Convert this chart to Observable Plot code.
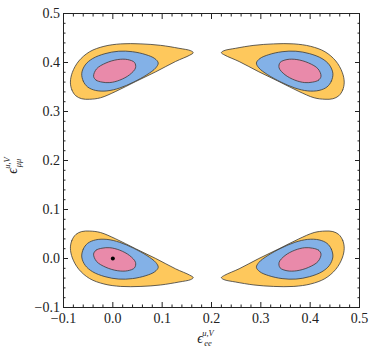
<!DOCTYPE html>
<html><head><meta charset="utf-8">
<script src="https://cdn.jsdelivr.net/npm/d3@7"></script>
<script src="https://cdn.jsdelivr.net/npm/@observablehq/plot@0.6"></script>
<style>body{margin:0;background:#fff}</style>
</head><body><div id="chart"></div>
<script>
// Tick values
const xTicks = [-0.1, 0.0, 0.1, 0.2, 0.3, 0.4, 0.5];
const yTicks = [-0.1, 0.0, 0.1, 0.2, 0.3, 0.4, 0.5];
const minorTicks = [-0.08,-0.06,-0.04,-0.02,0.02,0.04,0.06,0.08,0.12,0.14,0.16,0.18,0.22,0.24,0.26,0.28,0.32,0.34,0.36,0.38,0.42,0.44,0.46,0.48];

// Confidence levels (outer -> inner) and colours
const levels = ["outer", "middle", "inner"];
const levelColors = ["#fec85c", "#83b1e7", "#e98aaa"];

// Best-fit point
const bestFit = [[0.0, 0.0]];

// Contour boundaries: [x = eps_ee, y = eps_mumu]
const outerBL = [[-0.086,0.021],[-0.083,0.037],[-0.075,0.049],[-0.063,0.055],[-0.047,0.056],[-0.025,0.053],[0.006,0.040],[0.046,0.020],[0.087,0.000],[0.127,-0.021],[0.156,-0.034],[0.163,-0.039],[0.158,-0.043],[0.134,-0.048],[0.097,-0.054],[0.057,-0.057],[0.016,-0.057],[-0.018,-0.052],[-0.047,-0.041],[-0.069,-0.022],[-0.082,0.001]];
const outerBR = [[0.469,0.021],[0.466,0.037],[0.458,0.049],[0.446,0.055],[0.430,0.056],[0.408,0.053],[0.377,0.040],[0.337,0.020],[0.296,0.000],[0.256,-0.021],[0.227,-0.034],[0.220,-0.039],[0.225,-0.043],[0.249,-0.048],[0.286,-0.054],[0.326,-0.057],[0.367,-0.057],[0.401,-0.052],[0.430,-0.041],[0.452,-0.022],[0.465,0.001]];
const outerTL = [[-0.086,0.360],[-0.083,0.344],[-0.075,0.332],[-0.063,0.326],[-0.047,0.325],[-0.025,0.328],[0.006,0.341],[0.046,0.361],[0.087,0.381],[0.127,0.402],[0.156,0.415],[0.163,0.420],[0.158,0.424],[0.134,0.429],[0.097,0.435],[0.057,0.438],[0.016,0.438],[-0.018,0.433],[-0.047,0.422],[-0.069,0.403],[-0.082,0.380]];
const outerTR = [[0.469,0.360],[0.466,0.344],[0.458,0.332],[0.446,0.326],[0.430,0.325],[0.408,0.328],[0.377,0.341],[0.337,0.361],[0.296,0.381],[0.256,0.402],[0.227,0.415],[0.220,0.420],[0.225,0.424],[0.249,0.429],[0.286,0.435],[0.326,0.438],[0.367,0.438],[0.401,0.433],[0.430,0.422],[0.452,0.403],[0.465,0.380]];

const middleBL = [[-0.063,0.003],[-0.060,0.019],[-0.051,0.031],[-0.035,0.038],[-0.012,0.039],[0.014,0.033],[0.042,0.021],[0.069,0.006],[0.087,-0.008],[0.092,-0.018],[0.085,-0.027],[0.067,-0.035],[0.040,-0.041],[0.012,-0.042],[-0.016,-0.037],[-0.041,-0.027],[-0.056,-0.014]];
const middleBR = [[0.446,0.003],[0.443,0.019],[0.434,0.031],[0.418,0.038],[0.395,0.039],[0.369,0.033],[0.341,0.021],[0.314,0.006],[0.296,-0.008],[0.291,-0.018],[0.298,-0.027],[0.316,-0.035],[0.343,-0.041],[0.371,-0.042],[0.399,-0.037],[0.424,-0.027],[0.439,-0.014]];
const middleTL = [[-0.063,0.378],[-0.060,0.362],[-0.051,0.350],[-0.035,0.343],[-0.012,0.342],[0.014,0.348],[0.042,0.360],[0.069,0.375],[0.087,0.389],[0.092,0.399],[0.085,0.408],[0.067,0.416],[0.040,0.422],[0.012,0.423],[-0.016,0.418],[-0.041,0.408],[-0.056,0.395]];
const middleTR = [[0.446,0.378],[0.443,0.362],[0.434,0.350],[0.418,0.343],[0.395,0.342],[0.369,0.348],[0.341,0.360],[0.314,0.375],[0.296,0.389],[0.291,0.399],[0.298,0.408],[0.316,0.416],[0.343,0.422],[0.371,0.423],[0.399,0.418],[0.424,0.408],[0.439,0.395]];

const innerBL = [[-0.039,0.009],[-0.034,0.017],[-0.022,0.021],[-0.006,0.022],[0.014,0.017],[0.034,0.006],[0.046,-0.008],[0.044,-0.019],[0.030,-0.025],[0.010,-0.025],[-0.014,-0.018],[-0.033,-0.006]];
const innerBR = [[0.422,0.009],[0.417,0.017],[0.405,0.021],[0.389,0.022],[0.369,0.017],[0.349,0.006],[0.337,-0.008],[0.339,-0.019],[0.353,-0.025],[0.373,-0.025],[0.397,-0.018],[0.416,-0.006]];
const innerTL = [[-0.039,0.372],[-0.034,0.364],[-0.022,0.360],[-0.006,0.359],[0.014,0.364],[0.034,0.375],[0.046,0.389],[0.044,0.400],[0.030,0.406],[0.010,0.406],[-0.014,0.399],[-0.033,0.387]];
const innerTR = [[0.422,0.372],[0.417,0.364],[0.405,0.360],[0.389,0.359],[0.369,0.364],[0.349,0.375],[0.337,0.389],[0.339,0.400],[0.353,0.406],[0.373,0.406],[0.397,0.399],[0.416,0.387]];

const shapes = [
  {id: "outer-BL", level: "outer", pts: outerBL}, {id: "outer-BR", level: "outer", pts: outerBR},
  {id: "outer-TL", level: "outer", pts: outerTL}, {id: "outer-TR", level: "outer", pts: outerTR},
  {id: "middle-BL", level: "middle", pts: middleBL}, {id: "middle-BR", level: "middle", pts: middleBR},
  {id: "middle-TL", level: "middle", pts: middleTL}, {id: "middle-TR", level: "middle", pts: middleTR},
  {id: "inner-BL", level: "inner", pts: innerBL}, {id: "inner-BR", level: "inner", pts: innerBR},
  {id: "inner-TL", level: "inner", pts: innerTL}, {id: "inner-TR", level: "inner", pts: innerTR}
];
const rows = shapes.flatMap(s => s.pts.map(([x, y]) => ({id: s.id, level: s.level, x, y})));

const fmt = d3.format(".1f");
const ink = "#222";
const serif = "'Liberation Serif', 'DejaVu Serif', serif";

const chart = Plot.plot({
  width: 374, height: 354,
  marginLeft: 63, marginRight: 15, marginTop: 13, marginBottom: 47,
  style: {fontFamily: serif, fontSize: "14px", color: ink, background: "#fff"},
  x: {domain: [-0.1, 0.5]},
  y: {domain: [-0.1, 0.5]},
  marks: [
    ...levels.map((lv, i) => Plot.line(rows.filter(r => r.level === lv), {
      x: "x", y: "y", z: "id", fill: levelColors[i], stroke: "#3a3a3a", strokeWidth: 0.8, curve: "catmull-rom-closed"
    })),
    Plot.dot(bestFit, {x: d => d[0], y: d => d[1], r: 2, fill: "#000"}),
    Plot.axisX({ticks: xTicks, anchor: "bottom", tickSize: -5, tickPadding: 11, tickFormat: fmt, label: null}),
    Plot.axisX({ticks: minorTicks, anchor: "bottom", tickSize: -2.5, tickFormat: () => "", label: null}),
    Plot.axisX({ticks: xTicks, anchor: "top", tickSize: -5, tickFormat: () => "", label: null}),
    Plot.axisX({ticks: minorTicks, anchor: "top", tickSize: -2.5, tickFormat: () => "", label: null}),
    Plot.axisY({ticks: yTicks, anchor: "left", tickSize: -5, tickPadding: 8.5, tickFormat: fmt, label: null}),
    Plot.axisY({ticks: minorTicks, anchor: "left", tickSize: -2.5, tickFormat: () => "", label: null}),
    Plot.axisY({ticks: yTicks, anchor: "right", tickSize: -5, tickFormat: () => "", label: null}),
    Plot.axisY({ticks: minorTicks, anchor: "right", tickSize: -2.5, tickFormat: () => "", label: null}),
    Plot.frame({stroke: ink, strokeWidth: 1})
  ]
});

// Axis titles with sub/superscripts (one text element each)
const sx = chart.scale("x"), sy = chart.scale("y");
const cx = (sx.range[0] + sx.range[1]) / 2;
const cy = (sy.range[0] + sy.range[1]) / 2;
function addLabel(tx, ty, rot, sub) {
  const t = d3.select(chart).append("text")
    .attr("transform", `translate(${tx},${ty}) rotate(${rot})`)
    .attr("font-family", serif).attr("font-style", "italic").attr("fill", ink)
    .attr("x", -11).attr("y", 0);
  t.append("tspan").attr("font-size", 14).text("ϵ");
  t.append("tspan").attr("font-size", 8.5).attr("x", -3).attr("y", -6.5).text("u,V");
  t.append("tspan").attr("font-size", 8.5).attr("x", -3).attr("y", 3.8).text(sub);
}
addLabel(cx, 342.5, 0, "ee");
addLabel(16.7, cy, -90, "μμ");

document.getElementById("chart").append(chart);
</script>
</body></html>
